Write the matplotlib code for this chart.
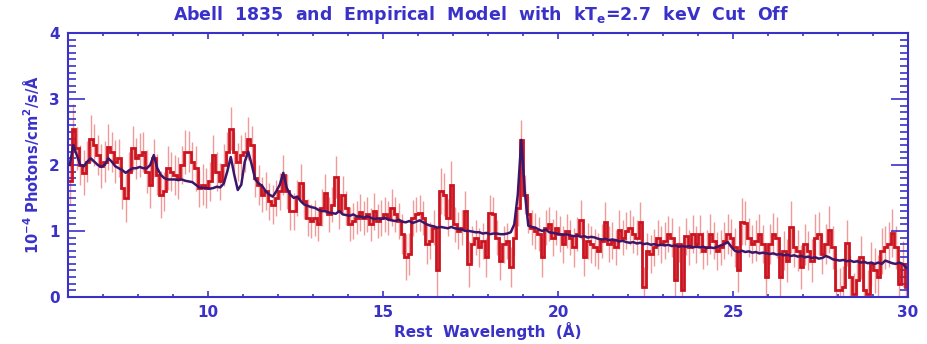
import numpy as np
import matplotlib
matplotlib.use("Agg")
import matplotlib.pyplot as plt
from matplotlib.ticker import MultipleLocator

# ---- data (0.1 A bins, 6-30 A) ----
wave_start = 6.0
bin_width = 0.1

flux = [
    1.75, 2.55, 2.25, 2.00, 1.88, 2.05, 2.40, 2.30, 2.15, 1.98,   # 6-7
    2.05, 2.27, 2.20, 2.05, 2.10, 1.65, 1.50, 1.90, 2.25, 2.10,   # 7-8
    2.15, 2.20, 1.90, 1.70, 2.10, 1.85, 1.55, 1.60, 1.95, 1.90,   # 8-9
    1.85, 1.80, 2.00, 2.20, 2.20, 2.05, 1.95, 1.65, 1.70, 1.65,   # 9-10
    1.75, 2.15, 1.90, 1.75, 2.00, 2.20, 2.55, 2.20, 2.05, 2.15,   # 10-11
    2.20, 2.40, 2.30, 1.80, 1.70, 1.55, 1.60, 1.45, 1.40, 1.50,   # 11-12
    1.60, 1.85, 1.60, 1.30, 1.30, 1.50, 1.72, 1.45, 1.20, 1.15,   # 12-13
    1.20, 1.10, 1.35, 1.57, 1.25, 1.40, 1.82, 1.30, 1.55, 1.35,   # 13-14
    1.10, 1.15, 1.20, 1.28, 1.20, 1.25, 1.10, 1.30, 1.15, 1.20,   # 14-15
    1.25, 1.20, 1.35, 1.25, 1.15, 0.95, 0.60, 0.65, 1.20, 1.25,   # 15-16
    1.27, 1.20, 0.80, 0.85, 1.05, 0.40, 1.60, 1.55, 1.20, 1.70,   # 16-17
    1.10, 1.00, 1.05, 1.30, 0.50, 0.80, 0.90, 0.75, 0.85, 0.60,   # 17-18
    1.27, 1.25, 0.90, 0.55, 0.80, 0.85, 0.45, 0.90, 1.35, 2.38,   # 18-19
    1.55, 1.25, 1.05, 1.00, 0.95, 0.60, 1.05, 1.10, 0.90, 1.05,   # 19-20
    0.95, 0.80, 1.00, 0.90, 0.75, 0.95, 1.17, 0.60, 0.85, 0.80,   # 20-21
    0.75, 0.70, 0.85, 1.14, 0.80, 0.85, 0.75, 1.02, 0.90, 1.00,   # 21-22
    1.05, 0.95, 0.90, 1.14, 0.15, 0.70, 0.65, 0.75, 0.90, 0.80,   # 22-23
    0.85, 0.95, 0.90, 0.25, 0.80, 0.10, 0.92, 0.75, 0.95, 0.80,   # 23-24
    0.95, 0.70, 0.75, 0.95, 0.85, 0.70, 0.75, 0.85, 0.95, 0.90,   # 24-25
    0.75, 0.40, 1.14, 1.12, 0.90, 0.80, 0.85, 0.95, 0.80, 0.30,   # 25-26
    0.80, 0.95, 0.90, 0.30, 0.70, 0.55, 1.06, 0.75, 0.70, 0.45,   # 26-27
    0.80, 0.70, 0.55, 0.90, 0.96, 0.65, 0.80, 1.02, 0.75, 0.10,   # 27-28
    0.10, 0.15, 0.82, 0.30, 0.05, 0.25, 0.60, 0.10, 0.05, 0.50,   # 28-29
    0.40, 0.30, 0.70, 0.75, 0.80, 0.97, 0.75, 0.20, 0.50, 0.15,   # 29-30
]

flux_err = [
    0.35, 0.38, 0.33, 0.30, 0.34, 0.31, 0.36, 0.32, 0.30, 0.33,
    0.31, 0.35, 0.30, 0.33, 0.29, 0.32, 0.36, 0.30, 0.34, 0.31,
    0.33, 0.30, 0.32, 0.35, 0.29, 0.31, 0.36, 0.30, 0.33, 0.30,
    0.30, 0.32, 0.29, 0.33, 0.31, 0.30, 0.34, 0.28, 0.31, 0.30,
    0.29, 0.31, 0.30, 0.28, 0.32, 0.30, 0.33, 0.30, 0.29, 0.31,
    0.30, 0.32, 0.29, 0.28, 0.30, 0.27, 0.29, 0.28, 0.30, 0.27,
    0.28, 0.30, 0.27, 0.29, 0.28, 0.27, 0.30, 0.27, 0.28, 0.26,
    0.27, 0.26, 0.28, 0.30, 0.27, 0.26, 0.32, 0.27, 0.28, 0.26,
    0.26, 0.27, 0.25, 0.28, 0.26, 0.27, 0.25, 0.28, 0.26, 0.27,
    0.27, 0.26, 0.28, 0.26, 0.27, 0.30, 0.35, 0.32, 0.27, 0.26,
    0.27, 0.26, 0.30, 0.28, 0.27, 0.40, 0.35, 0.33, 0.28, 0.36,
    0.27, 0.28, 0.26, 0.30, 0.35, 0.28, 0.27, 0.29, 0.27, 0.30,
    0.28, 0.27, 0.26, 0.30, 0.28, 0.27, 0.30, 0.26, 0.28, 0.30,
    0.30, 0.28, 0.26, 0.27, 0.26, 0.30, 0.27, 0.26, 0.28, 0.27,
    0.27, 0.28, 0.26, 0.27, 0.29, 0.26, 0.30, 0.29, 0.27, 0.28,
    0.28, 0.27, 0.26, 0.30, 0.27, 0.28, 0.27, 0.29, 0.26, 0.28,
    0.27, 0.28, 0.26, 0.30, 0.30, 0.27, 0.29, 0.28, 0.26, 0.28,
    0.28, 0.27, 0.29, 0.30, 0.27, 0.31, 0.28, 0.27, 0.29, 0.28,
    0.29, 0.28, 0.27, 0.30, 0.28, 0.29, 0.27, 0.28, 0.30, 0.28,
    0.29, 0.33, 0.36, 0.34, 0.30, 0.29, 0.31, 0.30, 0.29, 0.32,
    0.30, 0.32, 0.31, 0.33, 0.30, 0.32, 0.40, 0.30, 0.31, 0.33,
    0.31, 0.30, 0.32, 0.35, 0.33, 0.31, 0.30, 0.36, 0.32, 0.33,
    0.34, 0.32, 0.35, 0.33, 0.31, 0.34, 0.33, 0.32, 0.35, 0.33,
    0.34, 0.33, 0.35, 0.32, 0.34, 0.36, 0.33, 0.34, 0.35, 0.33,
]

model = [
    2.00, 2.30, 2.15, 2.00, 1.98, 2.05, 2.10, 2.05, 2.00, 1.97,   # 6-7
    2.00, 2.10, 2.05, 1.98, 1.95, 1.92, 1.88, 1.92, 1.95, 1.95,   # 7-8
    1.97, 1.95, 1.95, 2.00, 2.15, 1.95, 1.85, 1.80, 1.78, 1.78,   # 8-9
    1.78, 1.77, 1.78, 1.76, 1.75, 1.74, 1.70, 1.66, 1.65, 1.65,   # 9-10
    1.64, 1.65, 1.67, 1.66, 1.72, 1.90, 2.12, 1.85, 1.62, 1.70,   # 10-11
    2.05, 2.20, 2.00, 1.78, 1.72, 1.68, 1.60, 1.55, 1.52, 1.60,   # 11-12
    1.70, 1.88, 1.65, 1.55, 1.50, 1.52, 1.45, 1.40, 1.38, 1.36,   # 12-13
    1.35, 1.32, 1.30, 1.30, 1.28, 1.27, 1.26, 1.30, 1.25, 1.24,   # 13-14
    1.23, 1.25, 1.22, 1.22, 1.20, 1.22, 1.20, 1.18, 1.19, 1.18,   # 14-15
    1.20, 1.17, 1.16, 1.15, 1.17, 1.14, 1.13, 1.15, 1.12, 1.14,   # 15-16
    1.16, 1.13, 1.10, 1.08, 1.07, 1.05, 1.06, 1.05, 1.04, 1.06,   # 16-17
    1.04, 1.03, 1.02, 1.00, 1.00, 0.99, 0.98, 0.98, 0.96, 0.97,   # 17-18
    0.95, 0.96, 0.96, 0.95, 0.95, 0.96, 0.98, 1.10, 1.55, 2.38,   # 18-19
    1.60, 1.08, 1.06, 1.05, 1.02, 1.00, 1.02, 0.98, 0.97, 0.96,   # 19-20
    0.95, 0.94, 0.95, 0.93, 0.92, 0.93, 0.91, 0.92, 0.90, 0.91,   # 20-21
    0.90, 0.88, 0.87, 0.88, 0.86, 0.87, 0.86, 0.84, 0.85, 0.83,   # 21-22
    0.82, 0.83, 0.81, 0.82, 0.80, 0.81, 0.79, 0.80, 0.78, 0.79,   # 22-23
    0.78, 0.79, 0.77, 0.78, 0.76, 0.77, 0.76, 0.77, 0.75, 0.76,   # 23-24
    0.75, 0.76, 0.74, 0.75, 0.74, 0.76, 0.78, 0.80, 0.83, 0.76,   # 24-25
    0.70, 0.68, 0.70, 0.68, 0.69, 0.67, 0.68, 0.66, 0.67, 0.66,   # 25-26
    0.65, 0.66, 0.64, 0.65, 0.63, 0.64, 0.62, 0.63, 0.61, 0.62,   # 26-27
    0.60, 0.61, 0.59, 0.60, 0.58, 0.59, 0.62, 0.60, 0.57, 0.56,   # 27-28
    0.55, 0.56, 0.54, 0.55, 0.53, 0.54, 0.52, 0.53, 0.51, 0.52,   # 28-29
    0.50, 0.52, 0.50, 0.55, 0.53, 0.51, 0.50, 0.52, 0.50, 0.44,   # 29-30
]

x_ticks = [10, 15, 20, 25, 30]
y_ticks = [0, 1, 2, 3, 4]

title_text = "Abell  1835  and  Empirical  Model  with  kT$_\\mathbf{e}$=2.7  keV  Cut  Off"
xlabel_text = "Rest  Wavelength  (Å)"
ylabel_text = "10$^{\\mathbf{-4}}$ Photons/cm$^{\\mathbf{2}}$/s/Å"

# ---- styling ----
AXC = "#3a32c8"
DATA_C = "#cc1420"
ERR_C = "#f29a9a"
MODEL_C = "#3c1668"

plt.rcParams['font.family'] = ['DejaVu Sans']
plt.rcParams['mathtext.fontset'] = 'dejavusans'

n = len(flux)
centers = wave_start + bin_width * (np.arange(n) + 0.5)
edges = wave_start + bin_width * np.arange(n + 1)
flux_a = np.array(flux)
err_a = np.array(flux_err)
model_a = np.array(model)

fig = plt.figure(figsize=(9.28, 3.44), dpi=100)
ax = fig.add_axes([0.0733, 0.137, 0.9052, 0.767])

ax.vlines(centers, flux_a - err_a, flux_a + err_a, color=ERR_C, lw=1.0, zorder=1)
ax.stairs(flux_a, edges, color=DATA_C, lw=2.0, zorder=2, baseline=None)
ax.plot(centers, model_a, color=MODEL_C, lw=1.8, zorder=3)

ax.set_xlim(6, 30)
ax.set_ylim(0, 4)

ax.set_xticks(x_ticks)
ax.set_yticks(y_ticks)
ax.xaxis.set_minor_locator(MultipleLocator(1))
ax.yaxis.set_minor_locator(MultipleLocator(0.1))

ax.tick_params(axis='x', which='major', direction='in', length=4.5, width=1.2,
               color=AXC, labelcolor=AXC, labelsize=11, top=True, pad=6)
ax.tick_params(axis='x', which='minor', direction='in', length=2.5, width=1.2,
               color=AXC, top=True)
ax.tick_params(axis='y', which='major', direction='in', length=12, width=1.2,
               color=AXC, labelcolor=AXC, labelsize=11, right=True, pad=6)
ax.tick_params(axis='y', which='minor', direction='in', length=6, width=1.2,
               color=AXC, right=True)
for lab in ax.get_xticklabels() + ax.get_yticklabels():
    lab.set_fontweight('bold')

for s in ax.spines.values():
    s.set_color(AXC)
    s.set_linewidth(1.5)

fig.text(0.518, 0.955, title_text, color=AXC, fontsize=12.5, fontweight='bold',
         ha='center', va='center')
ax.set_xlabel(xlabel_text, color=AXC, fontsize=11, fontweight='bold', labelpad=1)
ax.set_ylabel(ylabel_text, color=AXC, fontsize=10.5, fontweight='bold', labelpad=6)

fig.savefig("out.png", dpi=100)
